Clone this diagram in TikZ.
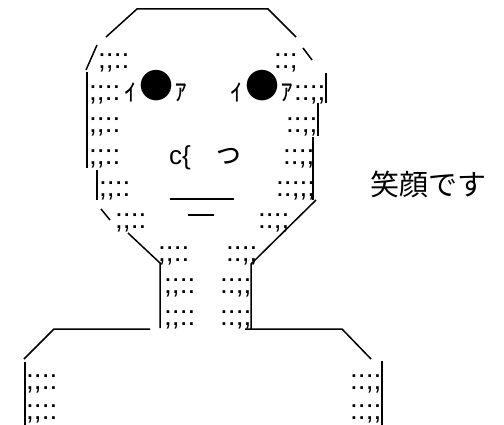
\documentclass[tikz,border=0pt]{standalone}
\usepackage{fontspec}
\newfontfamily\jpfont{Noto Sans CJK JP}
\newfontfamily\libfont{Liberation Sans}
\begin{document}
\begin{tikzpicture}[x=1pt,y=-1pt,
  ln/.style={line width=1.5pt, line cap=butt},
  tex/.style={font=\libfont\fontsize{28}{28}\selectfont, inner sep=0pt, anchor=base west},
  kana/.style={font=\jpfont\fontsize{30}{30}\selectfont, inner sep=0pt},
  ball/.style={font=\jpfont\fontsize{34}{34}\selectfont, inner sep=0pt},
  nose/.style={font=\libfont\fontsize{26}{26}\selectfont, inner sep=0pt, anchor=base west},
  label/.style={font=\jpfont\fontsize{29}{29}\selectfont, inner sep=0pt}]
\useasboundingbox (0,0) rectangle (504,425);
% head outline
\draw[ln] (106,37) -- (137,9) -- (268,9) -- (296,37);
\draw[ln] (97,45) -- (86,70);
\draw[ln] (303,48) -- (312,60);
\draw[ln] (87,72) -- (87,168);
\draw[ln] (97,170) -- (97,200);
\draw[ln] (101,209) -- (110,220);
\draw[ln] (128,233) -- (160,263) -- (160,328);
\draw[ln] (326,73) -- (326,103);
\draw[ln] (318,103) -- (318,136);
\draw[ln] (313,137) -- (313,200);
\draw[ln] (316,200) -- (251,264) -- (251,329);
% shoulders and arms
\draw[ln] (150,329) -- (54,329) -- (24,359);
\draw[ln] (25,362) -- (25,425);
\draw[ln] (245,329) -- (342,329) -- (371,359);
\draw[ln] (382,361) -- (382,425);
% eyes
\node[kana] (le1) at (131,92) {ｨ};
\node[ball] (le2) at (156,86) {●};
\node[kana] (le3) at (181,93) {ｧ};
\node[kana] (re1) at (237,92) {ｨ};
\node[ball] (re2) at (262,86) {●};
\node[kana] (re3) at (287,93) {ｧ};
% nose
\node[nose] (nz1) at (169,165) {c\{};
\node[kana] (nz2) at (228,156) {っ};
% mouth
\draw[ln] (170,199) -- (234,199);
\draw[ln] (188,215) -- (214,215);
% textures left
\node[tex] (t1) at (98,68.5) {;;::};
\node[tex] (t2) at (89,100.6) {;;::};
\node[tex] (t3) at (89,132.7) {;;::};
\node[tex] (t4) at (89,164.8) {;;::};
\node[tex] (t5) at (99,196.9) {;;::};
\node[tex] (t6) at (115,229) {;;::};
\node[tex] (t7) at (158,261.1) {;;::};
\node[tex] (t8) at (164,293.2) {;;::};
\node[tex] (t9) at (164,325.3) {;;::};
\node[tex] (t10) at (26,389.5) {;;::};
\node[tex] (t11) at (26,419.4) {;;::};
% textures right
\node[tex] (u1) at (274,68.5) {::;};
\node[tex] (u2) at (294,100.6) {::;;};
\node[tex] (u3) at (286,132.7) {::;;};
\node[tex] (u4) at (283,164.8) {::;;};
\node[tex] (u5) at (276,196.9) {::;;;};
\node[tex] (u6) at (258,229) {::;;};
\node[tex] (u7) at (226,261.1) {::;;};
\node[tex] (u8) at (220,293.2) {::;;};
\node[tex] (u9) at (220,325.3) {::;;};
\node[tex] (u10) at (350,389.5) {::;;};
\node[tex] (u11) at (350,419.4) {::;;};
% label
\node[label] (lab) at (428,184) {笑顔です};
\end{tikzpicture}
\end{document}
